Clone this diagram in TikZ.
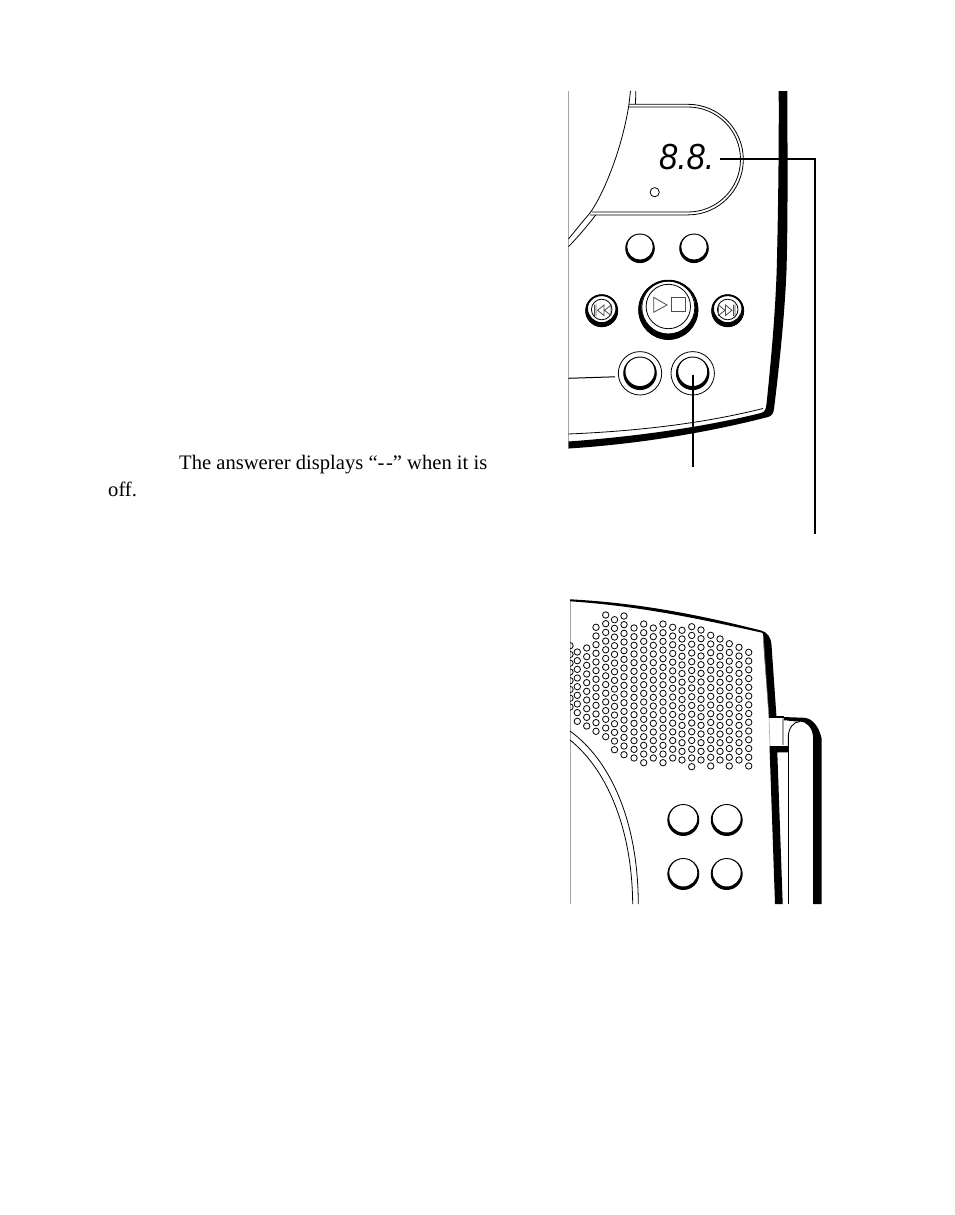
\documentclass[tikz,border=0pt]{standalone}
\usepackage{fontspec}
\setmainfont{Liberation Serif}
\newfontfamily\ledfont{Liberation Sans}
\tikzset{
  thinline/.style={draw=black,line width=0.8pt},
  hairgray/.style={draw=black!35,line width=0.9pt},
  leader/.style={draw=black,line width=1.9pt},
  glyph/.style={draw=black!70,line width=0.8pt},
  hole/.style={draw=black,line width=0.8pt},
  bodytext/.style={inner sep=0pt,anchor=base west,font=\fontsize{20.6}{24}\selectfont}
}
\newcommand{\crescentbtn}[4]{%
  \fill[even odd rule] (#1,#2) circle [radius=#3pt] (#1,{#2-#4/2}) circle [radius=(#3-#4/2)*1pt];
  \draw[line width=0.9pt] (#1,#2) circle [radius=#3pt];
}
\begin{document}
\begin{tikzpicture}[x=1pt,y=-1pt]
\useasboundingbox (0,0) rectangle (954,1215);
\fill[white] (0,0) rectangle (954,1215);

% text
\node[bodytext] (line1) at (179,469) {The answerer displays “-\kern1.5pt-” when it is};
\node[bodytext] (line2) at (108,496) {off.};

%%% upper view
\draw[hairgray] (568.5,91) -- (568.5,449);
% display window
\draw[thinline] (630.5,91) -- (629,104) .. controls (622,150) and (603,195) .. (590,213) .. controls (583,221) and (575,231) .. (568.5,239);
\draw[thinline] (635.8,91) -- (635.5,104);
\draw[thinline] (595.7,215) .. controls (588,225) and (578,237) .. (568.5,246.7);
\draw[thinline] (629,104.3) -- (688,104.3) arc[start angle=90,end angle=-90,radius=55.3pt] -- (590,214.9);
\draw[thinline] (629,107) -- (688,107) arc[start angle=90,end angle=-90,radius=52.5pt] -- (592,212);
% display readout
\node[inner sep=0pt,anchor=base west,font=\ledfont\itshape\fontsize{33}{33}\selectfont] (readout) at (659,169) {\scalebox{1}[1.1]{8.8.}};
\draw[thinline] (654.7,192.2) circle (4.6pt);
% body
\fill (778.7,91) .. controls (779,150) and (778,220) .. (776.7,270) .. controls (775,320) and (770,370) .. (766.5,404)
  .. controls (766,409) and (765,412) .. (761,413) .. controls (700,428) and (630,437) .. (568.5,441.5)
  -- (568.5,448.5) .. controls (640,444) and (710,432) .. (768,417) .. controls (772,416) and (773.5,413) .. (774,409)
  .. controls (780,360) and (785,310) .. (786.5,270) .. controls (788,220) and (787.5,150) .. (787.3,91) -- cycle;
\draw[thinline] (568.5,434) .. controls (640,431) and (705,423) .. (763,408.5);
% round buttons
\crescentbtn{640}{248.3}{14.3}{3}
\crescentbtn{694}{248.3}{14.3}{3}
% play button
\draw[line width=1.6pt] (668.3,309.8) circle (29pt);
\crescentbtn{668.3}{309.8}{29.6}{5.5}
\draw[thinline] (668.3,307.5) circle (26.5pt);
\draw[thinline] (668.3,306.5) circle (22.2pt);
\draw[glyph] (653.7,297.3) -- (653.7,312.3) -- (667,305) -- cycle;
\draw[glyph] (671,297.7) rectangle (685.3,311.7);
% rewind
\draw[line width=1.6pt] (601.7,310.7) circle (15.4pt);
\crescentbtn{601.7}{310.7}{16}{4.5}
\draw[thinline] (601.7,309.5) circle (10.3pt);
\draw[glyph] (594.5,304.5) -- (594.5,316) (596,304.5) -- (596,316) (604,305) -- (597.5,310.3) -- (604,315.5) -- cycle (611,305) -- (604.5,310.3) -- (611,315.5) -- cycle;
% forward
\draw[line width=1.6pt] (727.7,310.7) circle (15.4pt);
\crescentbtn{727.7}{310.7}{16}{4.5}
\draw[thinline] (727.7,309.5) circle (10.3pt);
\draw[glyph] (735,304.5) -- (735,316) (733.5,304.5) -- (733.5,316) (725.5,305) -- (732,310.3) -- (725.5,315.5) -- cycle (718.5,305) -- (725,310.3) -- (718.5,315.5) -- cycle;
% lower pair
\draw[thinline] (640,373.3) circle (21.7pt);
\crescentbtn{640}{373.3}{16.3}{3.5}
\draw[thinline] (692.7,373.3) circle (21.7pt);
\crescentbtn{692.7}{373.3}{16.3}{3.5}
\draw[line width=1pt] (568.5,378.3) -- (615,376.8);
% leaders
\coordinate (btnEnd) at (692.7,374.5);
\coordinate (btnFree) at (692.7,466.7);
\coordinate (dispEnd) at (720,159);
\coordinate (dispFree) at (815.3,534);
\draw[leader] (btnEnd) -- (btnFree);
\draw[leader] (dispEnd) -| (dispFree);

%%% lower view
\draw[hairgray] (570,600) -- (570,904);
% top edge
\fill (570,599.3) .. controls (640,603) and (700,615) .. (761,630.5) -- (763.5,633) .. controls (700,619) and (640,606) .. (570,601.3) -- cycle;
% right wedge
\fill (761,630.5) .. controls (767,632) and (771,637) .. (771.5,645) -- (776.5,717) -- (769,717) -- (764,652) -- (763,634) -- cycle;
\draw[line width=0.5pt,draw=black!50] (763.3,636) -- (769,718);
% handset arm
\fill (783,717) -- (805,717.8) .. controls (813,719) and (819,727) .. (821.5,738) -- (821.5,904) -- (813,904) -- (813,736)
  .. controls (812,727) and (806,721.5) .. (800,721.5) .. controls (795,721.5) and (790,721) .. (786,720.3) -- (783,720.3) -- cycle;
\draw[line width=0.9pt] (788.3,746) -- (788.3,737) .. controls (788.3,729) and (793,721.5) .. (800,721.5);
% hinge and lower band
\fill (769.5,746) -- (788.8,746) -- (788.8,752.3) -- (777.3,752.3) -- (782.7,904) -- (775,904) -- cycle;
\draw[line width=1.1pt] (769,717) -- (783.5,717);
\draw[hairgray,line width=1.2pt] (783,718) -- (783,745);
\draw[hairgray,line width=0.6pt] (769,718) -- (770,746);
\draw[line width=0.9pt] (788.3,752) -- (788.3,904);
% disc
\draw[thinline] (570,731) .. controls (610,760) and (638,820) .. (638.3,904);
\draw[thinline] (570,740) .. controls (605,768) and (632,825) .. (632.7,904);
% four buttons
\crescentbtn{683.3}{820}{15.5}{3}
\crescentbtn{726.7}{820}{15.5}{3}
\crescentbtn{683.3}{874}{15.5}{3}
\crescentbtn{726.7}{874}{15.5}{3}
% speaker holes
\begin{scope}
\clip (570,600) rectangle (760,780);
\foreach \cx/\ct/\cb/\cn in {570/645.7/707/7,577.3/652/721.3/8,586.7/648/726/9,596/627.3/731.3/12,605.7/615/736.7/14,614.5/619.7/749.7/15,624/616/754.7/16,634/628/758/15,643.7/624/762.7/16,653.3/628/758/15,663/624/762.7/16,672.7/627.3/758/15,682/630.3/760/15,691.7/626.7/766.7/16,701/630/760/15,710.7/635.3/766/15,720/639/760/14,729.3/643.7/766/14,739/647.3/760/13,748.7/652.3/766/13}{
  \foreach \ci in {0,...,\cn}{
    \draw[hole] (\cx,{\ct+\ci*(\cb-\ct)/\cn}) circle (3.2pt);
  }
}
\end{scope}
\end{tikzpicture}
\end{document}
